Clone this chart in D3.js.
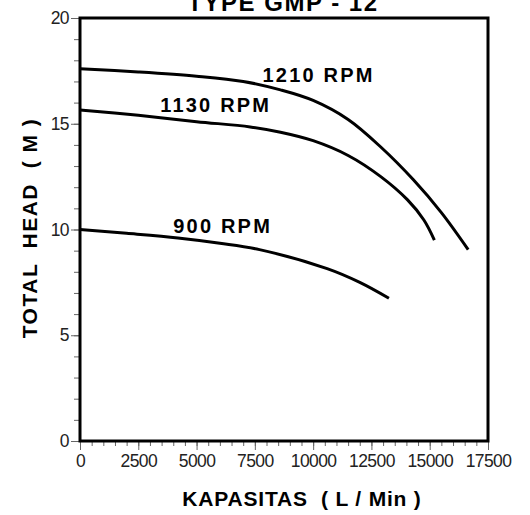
<!DOCTYPE html>
<html>
<head>
<meta charset="utf-8">
<script src="https://cdn.jsdelivr.net/npm/d3@7"></script>
<style>
  body { margin: 0; background: #fff; }
  text { font-family: "Liberation Sans", Arial, sans-serif; }
</style>
</head>
<body>
<div></div>
<script>
// curve points: capacity (L/min) and head (m)
const rpm1210X = [0, 2500, 5000, 7000, 8600, 10000, 11500, 12900, 14300, 15500, 16650];
const rpm1210Y = [17.6, 17.45, 17.25, 17.0, 16.6, 16.1, 15.2, 13.9, 12.35, 10.8, 9.05];
const rpm1130X = [0, 2500, 5000, 7300, 8600, 10000, 11500, 12900, 14050, 14750, 15200];
const rpm1130Y = [15.65, 15.4, 15.1, 14.85, 14.6, 14.2, 13.5, 12.5, 11.4, 10.45, 9.5];
const rpm900X = [0, 2000, 4200, 6000, 7700, 10600, 12000, 13250];
const rpm900Y = [10.0, 9.82, 9.6, 9.35, 9.05, 8.15, 7.5, 6.75];
const curveNames = ["1210 RPM", "1130 RPM", "900 RPM"];
const labelPos = [[7830, 16.99], [3440, 15.57], [4000, 9.83]];
const xTicks = [0, 2500, 5000, 7500, 10000, 12500, 15000, 17500];
const yTicks = [0, 5, 10, 15, 20];

const w = 530;
const h = 515;
const padLeft = 80, padRight = 488, padTop = 18, padBottom = 441;

const svg = d3.select("div").append("svg").attr("width", w).attr("height", h);

const xScale = d3.scaleLinear().domain([0, 17500]).range([padLeft, padRight]);
const yScale = d3.scaleLinear().domain([0, 20]).range([padBottom, padTop]);

// minor ticks first, then the labelled ones
const xAxisMinor = d3.axisBottom(xScale).tickValues(d3.range(0, 17501, 500)).tickSize(5).tickFormat("");
const xAxis = d3.axisBottom(xScale).tickValues(xTicks).tickSize(9).tickPadding(5).tickFormat(d3.format("d"));
const yAxisMinor = d3.axisLeft(yScale).tickValues(d3.range(0, 21, 1)).tickSize(6).tickFormat("");
const yAxis = d3.axisLeft(yScale).tickValues(yTicks).tickSize(9).tickPadding(2);

svg.append("g").attr("transform", "translate(0," + padBottom + ")").call(xAxisMinor);
svg.append("g").attr("id", "x-axis").attr("transform", "translate(0," + padBottom + ")").call(xAxis);
svg.append("g").attr("transform", "translate(" + padLeft + ",0)").call(yAxisMinor);
svg.append("g").attr("id", "y-axis").attr("transform", "translate(" + padLeft + ",0)").call(yAxis);

svg.selectAll(".domain").remove();
svg.selectAll(".tick line").attr("stroke", "#666").attr("stroke-width", 1);
svg.selectAll(".tick text").attr("font-size", 17.5).attr("fill", "#222")
  .attr("letter-spacing", -0.6)
  .style("font-family", "Liberation Sans, Arial, sans-serif");

// frame
svg.append("rect")
  .attr("x", padLeft)
  .attr("y", padTop)
  .attr("width", padRight - padLeft)
  .attr("height", padBottom - padTop)
  .attr("fill", "none")
  .attr("stroke", "#000")
  .attr("stroke-width", 3);

const series = [
  d3.zip(rpm1210X, rpm1210Y),
  d3.zip(rpm1130X, rpm1130Y),
  d3.zip(rpm900X, rpm900Y),
];

const line = d3.line()
  .x((d) => xScale(d[0]))
  .y((d) => yScale(d[1]))
  .curve(d3.curveCatmullRom.alpha(0.5));

svg.selectAll(".curve")
  .data(series)
  .enter()
  .append("path")
  .attr("class", "curve")
  .attr("d", line)
  .attr("fill", "none")
  .attr("stroke", "#000")
  .attr("stroke-width", 3);

svg.selectAll(".rpm-label")
  .data(curveNames)
  .enter()
  .append("text")
  .attr("class", "rpm-label")
  .attr("x", (d, i) => xScale(labelPos[i][0]))
  .attr("y", (d, i) => yScale(labelPos[i][1]))
  .attr("font-size", 20)
  .attr("font-weight", "bold")
  .attr("letter-spacing", 2.2)
  .text((d) => d);

// title, mostly cut off at the top like in the source
svg.append("text")
  .attr("x", 283)
  .attr("y", 11)
  .attr("text-anchor", "middle")
  .attr("font-size", 24)
  .attr("font-weight", "bold")
  .attr("letter-spacing", 1.5)
  .text("TYPE GMP - 12");

svg.append("text")
  .attr("x", 302)
  .attr("y", 506)
  .attr("text-anchor", "middle")
  .attr("font-size", 21)
  .attr("font-weight", "bold")
  .attr("letter-spacing", 0.8)
  .style("white-space", "pre")
  .text("KAPASITAS  ( L / Min )");

svg.append("text")
  .attr("transform", "translate(37,228) rotate(-90)")
  .attr("text-anchor", "middle")
  .attr("font-size", 21)
  .attr("font-weight", "bold")
  .attr("letter-spacing", 1.5)
  .style("white-space", "pre")
  .text("TOTAL  HEAD  ( M )");
</script>
</body>
</html>
